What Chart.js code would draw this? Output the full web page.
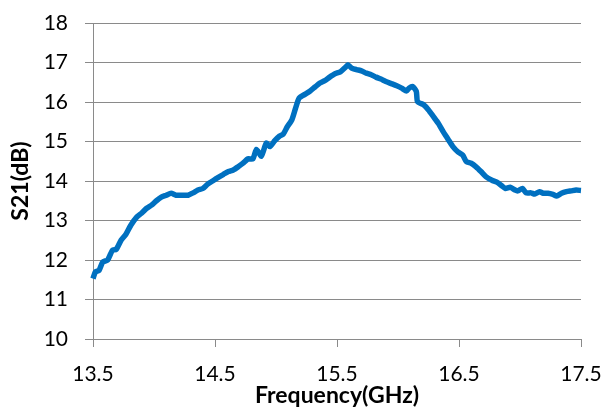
<!DOCTYPE html>
<html>
<head>
<meta charset="utf-8">
<script src="https://cdn.jsdelivr.net/npm/chart.js@4/dist/chart.umd.min.js"></script>
<style>
    html, body { margin: 0; padding: 0; background: #fff; }
    #wrap { width: 608px; height: 412px; }
</style>
</head>
<body>
<div id="wrap"><canvas id="s21Chart" width="608" height="412"></canvas></div>
<script>
// ---------------- DATA ----------------
const freqGHz = [
    13.50, 13.52, 13.55, 13.58, 13.62, 13.66, 13.69, 13.73, 13.77, 13.81,
    13.86, 13.90, 13.94, 13.98, 14.02, 14.06, 14.10, 14.14, 14.18, 14.24,
    14.28, 14.32, 14.36, 14.40, 14.44, 14.48, 14.52, 14.57, 14.61, 14.65,
    14.69, 14.73, 14.77, 14.81, 14.84, 14.88, 14.92, 14.95, 14.99, 15.03,
    15.06, 15.09, 15.13, 15.16, 15.19, 15.24, 15.28, 15.32, 15.36, 15.40,
    15.44, 15.48, 15.53, 15.57, 15.59, 15.62, 15.66, 15.70, 15.74, 15.78,
    15.82, 15.86, 15.90, 15.95, 15.99, 16.03, 16.07, 16.09, 16.12, 16.15,
    16.16, 16.21, 16.25, 16.29, 16.33, 16.37, 16.41, 16.45, 16.49, 16.53,
    16.56, 16.60, 16.64, 16.68, 16.72, 16.77, 16.81, 16.85, 16.88, 16.92,
    16.96, 16.98, 17.02, 17.05, 17.09, 17.12, 17.16, 17.19, 17.23, 17.27,
    17.30, 17.34, 17.38, 17.42, 17.46, 17.50
];

const s21dB = [
    11.53, 11.70, 11.74, 11.95, 12.00, 12.25, 12.27, 12.50, 12.65, 12.88,
    13.09, 13.19, 13.31, 13.39, 13.50, 13.59, 13.64, 13.69, 13.64, 13.64,
    13.64, 13.70, 13.77, 13.81, 13.92, 14.00, 14.08, 14.17, 14.24, 14.28,
    14.36, 14.45, 14.56, 14.56, 14.80, 14.63, 14.96, 14.87, 15.02, 15.14,
    15.19, 15.36, 15.55, 15.84, 16.10, 16.20, 16.28, 16.38, 16.48, 16.54,
    16.63, 16.71, 16.77, 16.88, 16.94, 16.86, 16.82, 16.79, 16.73, 16.69,
    16.63, 16.58, 16.52, 16.46, 16.41, 16.35, 16.28, 16.35, 16.39, 16.27,
    16.01, 15.93, 15.80, 15.63, 15.46, 15.25, 15.06, 14.87, 14.74, 14.66,
    14.49, 14.45, 14.36, 14.24, 14.11, 14.02, 13.97, 13.88, 13.81, 13.84,
    13.77, 13.75, 13.81, 13.70, 13.70, 13.67, 13.73, 13.69, 13.69, 13.66,
    13.62, 13.69, 13.73, 13.75, 13.77, 13.76
];

const xTicks = [13.5, 14.5, 15.5, 16.5, 17.5];
const yMin = 10;
const yMax = 18;

// ---------------- CHART ----------------
const points = freqGHz.map((f, i) => ({ x: f, y: s21dB[i] }));

const gridGray = "#8a8a8a";
const tickFont = { family: "Lato", size: 21 };
const titleFont = { family: "Lato", size: 23, weight: "bold" };

new Chart(document.getElementById("s21Chart"), {
    type: "line",
    data: {
        datasets: [{
            data: points,
            borderColor: "#0070C0",
            borderWidth: 5.5,
            pointRadius: 0,
            tension: 0.2,
            fill: false,
            clip: false
        }]
    },
    options: {
        responsive: false,
        animation: false,
        events: [],
        layout: { padding: { left: 0, right: 27, top: 23, bottom: 0 } },
        plugins: {
            legend: { display: false },
            tooltip: { enabled: false }
        },
        scales: {
            x: {
                type: "linear",
                min: xTicks[0],
                max: xTicks[xTicks.length - 1],
                afterBuildTicks: axis => {
                    axis.ticks = xTicks.map(v => ({ value: v }));
                },
                // fixed axis box so the plot area sits where the original's does
                afterFit: axis => {
                    axis.height = 73;
                    axis.paddingLeft = 0;
                    axis.paddingRight = 0;
                },
                grid: {
                    drawOnChartArea: false,
                    drawTicks: true,
                    tickLength: 8,
                    color: gridGray
                },
                border: { color: gridGray, width: 1 },
                ticks: {
                    color: "#000",
                    font: tickFont,
                    padding: 15,
                    maxRotation: 0,
                    callback: v => Number(v).toFixed(1)
                },
                title: {
                    display: true,
                    text: "Frequency(GHz)",
                    color: "#000",
                    font: titleFont,
                    padding: { top: 0, bottom: 3 }
                }
            },
            y: {
                min: yMin,
                max: yMax,
                afterFit: axis => {
                    axis.width = 93;
                    axis.paddingTop = 0;
                    axis.paddingBottom = 0;
                },
                grid: {
                    drawTicks: true,
                    tickLength: 8,
                    color: gridGray
                },
                border: { color: gridGray, width: 1 },
                ticks: {
                    stepSize: 1,
                    color: "#000",
                    font: tickFont,
                    padding: 17
                },
                title: {
                    display: true,
                    text: "S21(dB)",
                    color: "#000",
                    font: titleFont,
                    padding: { top: 7, bottom: 0 }
                }
            }
        }
    }
});
</script>
</body>
</html>
